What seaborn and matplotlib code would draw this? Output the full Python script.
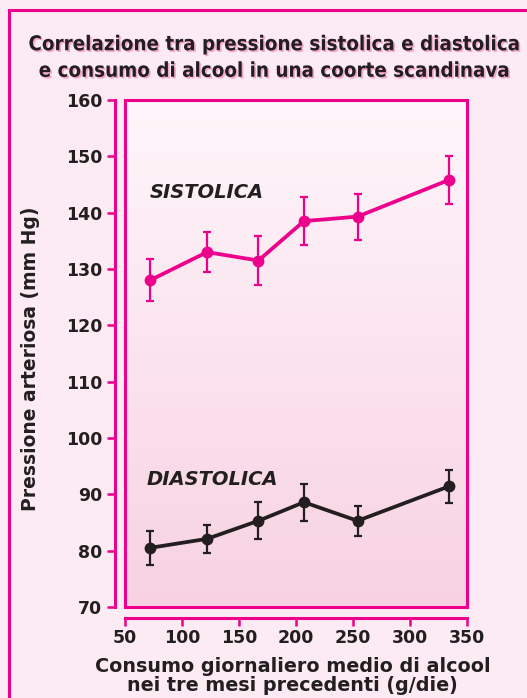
import numpy as np
import pandas as pd
import seaborn as sb
import matplotlib.pyplot as plt
from matplotlib.patches import Rectangle
from matplotlib.colors import LinearSegmentedColormap
import matplotlib.patheffects as pe

# values
alcol = [72, 122, 167, 207, 254, 334]
sistolica = [128.0, 133.0, 131.5, 138.5, 139.3, 145.8]
sistolica_err = [3.7, 3.6, 4.3, 4.2, 4.1, 4.3]
diastolica = [80.5, 82.1, 85.3, 88.6, 85.3, 91.4]
diastolica_err = [3.0, 2.5, 3.3, 3.3, 2.7, 3.0]
x_ticks = [50, 100, 150, 200, 250, 300, 350]
y_ticks = [70, 80, 90, 100, 110, 120, 130, 140, 150, 160]

MAGENTA = "#ec008c"
DARK = "#231f20"
BG = "#fdebf3"

sb.set_style("white")
plt.rcParams['font.family'] = ['DejaVu Sans']
plt.rcParams['font.weight'] = 'bold'

fig = plt.figure(figsize=(5.27, 6.98), dpi=100, facecolor=BG)
ax = fig.add_axes([125/527, 1-607/698, 342/527, 507/698])
ax.set_facecolor("none")

# outer pink frame of the figure
fig.patches.append(Rectangle((9/527, -0.1), 1.2, 1-10/698+0.1, transform=fig.transFigure,
                             fill=False, edgecolor=MAGENTA, linewidth=2.2, zorder=0))

# gradient background inside the plot box
cmap = LinearSegmentedColormap.from_list("g", ["#f8d2e2", "#fef6fa"])
ax.imshow(np.linspace(0, 1, 256).reshape(-1, 1), cmap=cmap, origin="lower",
          extent=[0, 1, 0, 1], transform=ax.transAxes, aspect="auto", zorder=0)
ax.add_patch(Rectangle((0, 0), 1, 1, transform=ax.transAxes, fill=False,
                       edgecolor=MAGENTA, linewidth=2.2, clip_on=False, zorder=1))

df = pd.DataFrame({"x": alcol * 2, "y": sistolica + diastolica,
                   "tipo": ["s"] * len(alcol) + ["d"] * len(alcol)})
sb.lineplot(data=df, x="x", y="y", hue="tipo", palette={"s": MAGENTA, "d": DARK},
            marker="o", markersize=8.5, markeredgewidth=0, linewidth=2.7,
            legend=False, ax=ax, zorder=3)
ax.errorbar(alcol, sistolica, yerr=sistolica_err, fmt="none", ecolor=MAGENTA,
            elinewidth=1.6, capsize=3.2, capthick=1.6, zorder=2)
ax.errorbar(alcol, diastolica, yerr=diastolica_err, fmt="none", ecolor=DARK,
            elinewidth=1.6, capsize=3.2, capthick=1.6, zorder=2)

ax.text(72, 142.6, "SISTOLICA", fontsize=14, fontweight="bold", fontstyle="italic", color=DARK)
ax.text(69, 91.6, "DIASTOLICA", fontsize=14, fontweight="bold", fontstyle="italic", color=DARK)

ax.set_xlim(50, 350)
ax.set_ylim(70, 160)
ax.set_xticks(x_ticks)
ax.set_yticks(y_ticks)
ax.tick_params(axis="both", colors=MAGENTA, labelcolor=DARK, length=6, width=1.8,
               labelsize=12.5, direction="out", left=True, bottom=True)
ax.tick_params(axis="y", pad=3)
ax.tick_params(axis="x", pad=2)

for s in ["top", "right"]:
    ax.spines[s].set_visible(False)
for s in ["left", "bottom"]:
    ax.spines[s].set_visible(True)
    ax.spines[s].set_color(MAGENTA)
    ax.spines[s].set_linewidth(2.2)
ax.spines["left"].set_position(("outward", 7.5))
ax.spines["bottom"].set_position(("outward", 8))
ax.spines["left"].set_bounds(70, 160)
ax.spines["bottom"].set_bounds(50, 350)

ax.set_ylabel("Pressione arteriosa (mm Hg)", fontsize=13.5, fontweight="bold", color=DARK)
ax.yaxis.set_label_coords(-0.248, 0.49)
ax.set_xlabel("Consumo giornaliero medio di alcool\nnei tre mesi precedenti (g/die)",
              fontsize=13.8, fontweight="bold", color=DARK, linespacing=1.05)
ax.xaxis.set_label_coords(0.49, -0.136)
ax.xaxis.label.set_va("center")

fig.text(273/527, 1-58/698, "Correlazione tra pressione sistolica e diastolica\ne consumo di alcool in una coorte scandinava",
         ha="center", va="center", fontsize=14.7, fontweight="bold", color=DARK,
         fontstretch="condensed", linespacing=1.5,
         path_effects=[pe.withSimplePatchShadow(offset=(1.2, -1.2), shadow_rgbFace="#f4a6cc", alpha=1)])

plt.savefig("out.png", dpi=100, facecolor=BG)
